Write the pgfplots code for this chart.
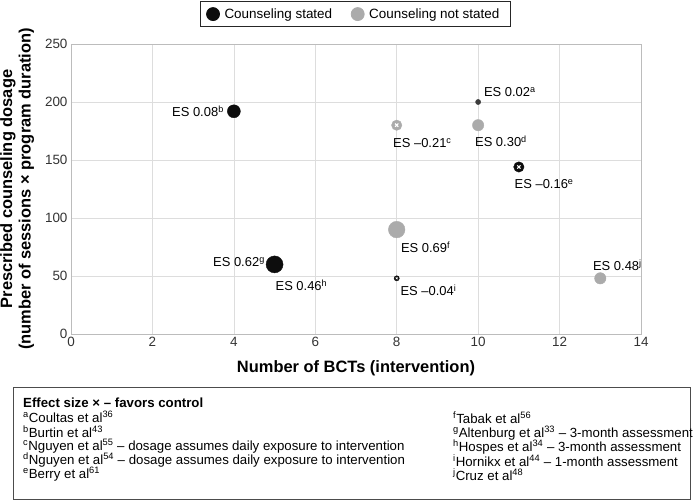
\documentclass[border=0pt]{standalone}
\usepackage{fontspec}
\setmainfont{Liberation Sans}
\usepackage{pgfplots}
\pgfplotsset{compat=1.18}
\definecolor{cblack}{HTML}{0D0D0D}
\definecolor{cgray}{HTML}{ABABAB}
\definecolor{cdark}{HTML}{3C3C3C}
\definecolor{gridc}{HTML}{DDDDDD}
\newcommand{\lab}[1]{\fontsize{13}{15}\selectfont #1}
\begin{document}
\begin{tikzpicture}
\useasboundingbox (-71bp,-169bp) rectangle (623bp,334bp);
\begin{axis}[
  at={(0,0)}, anchor=origin,
  scale only axis, width=570bp, height=290bp,
  xmin=0, xmax=14, ymin=0, ymax=250,
  xtick={0,2,...,14}, ytick={0,50,...,250},
  grid=major, major grid style={gridc, line width=0.7bp},
  axis line style={gridc!85!black, line width=0.7bp},
  tick style={draw=none},
  clip=false,
  ticklabel style={font=\fontsize{13.5}{15}\selectfont, text=black!80},
  /pgf/number format/assume math mode=true,
  xlabel={Number of BCTs (intervention)},
  xlabel style={at={(0.5,-0.1172)}, anchor=center, font=\bfseries\fontsize{16.5}{18}\selectfont},
  ylabel={Prescribed counseling dosage\\(number of sessions × program duration)},
  ylabel style={at={(-0.0945,0.5)}, anchor=center, align=center, font=\bfseries\fontsize{16.5}{18.5}\selectfont},
  legend columns=2,
  legend style={at={(0.499,1.148)}, anchor=north, draw=black!85, line width=0.8bp,
    font=\fontsize{13.5}{15}\selectfont, inner xsep=6bp, inner ysep=5bp,
    /tikz/every even column/.append style={column sep=14bp},
    nodes={inner xsep=5bp}},
]
\addlegendimage{only marks, mark=*, mark size=6.5bp, cblack}
\addlegendentry{Counseling stated}
\addlegendimage{only marks, mark=*, mark size=6.5bp, cgray}
\addlegendentry{Counseling not stated}
% Counseling stated
\addplot[only marks, mark=*, mark size=6.5bp, cblack, forget plot] coordinates {(4,192)};
\addplot[only marks, mark=*, mark size=8.5bp, cblack, forget plot] coordinates {(5,60)};
\addplot[only marks, mark=*, mark size=5.2bp, cblack, forget plot] coordinates {(11,144)};
\addplot[only marks, mark=*, mark size=2.6bp, cblack, forget plot] coordinates {(8,48)};
\addplot[only marks, mark=*, mark size=2.6bp, cdark, forget plot] coordinates {(10,200)};
% Counseling not stated
\addplot[only marks, mark=*, mark size=5.2bp, cgray, forget plot] coordinates {(8,180)};
\addplot[only marks, mark=*, mark size=5.7bp, cgray, forget plot] coordinates {(10,180)};
\addplot[only marks, mark=*, mark size=8.3bp, cgray, forget plot] coordinates {(8,90)};
\addplot[only marks, mark=*, mark size=5.7bp, cgray, forget plot] coordinates {(13,48)};
% white x symbols (effect favours control)
\addplot[only marks, mark=x, mark size=2.3bp, white, line width=1.1bp, forget plot] coordinates {(8,180) (11,144)};
\addplot[only marks, mark=x, mark size=1.3bp, white, line width=0.6bp, forget plot] coordinates {(8,48)};
% labels
\node[anchor=east, inner sep=0pt] at (axis cs:3.758,192.2) {\lab{ES 0.08\textsuperscript{b}}};
\node[anchor=west, inner sep=0pt] at (axis cs:10.14,208.6) {\lab{ES 0.02\textsuperscript{a}}};
\node[inner sep=0pt] at (axis cs:8.63,164.7) {\lab{ES –0.21\textsuperscript{c}}};
\node[inner sep=0pt] at (axis cs:10.56,166.4) {\lab{ES 0.30\textsuperscript{d}}};
\node[inner sep=0pt] at (axis cs:11.62,129.3) {\lab{ES –0.16\textsuperscript{e}}};
\node[inner sep=0pt] at (axis cs:8.71,75) {\lab{ES 0.69\textsuperscript{f}}};
\node[anchor=east, inner sep=0pt] at (axis cs:4.765,62) {\lab{ES 0.62\textsuperscript{g}}};
\node[inner sep=0pt] at (axis cs:5.66,42.2) {\lab{ES 0.46\textsuperscript{h}}};
\node[inner sep=0pt] at (axis cs:8.78,37.9) {\lab{ES –0.04\textsuperscript{i}}};
\node[inner sep=0pt] at (axis cs:13.42,59.5) {\lab{ES 0.48\textsuperscript{j}}};
\end{axis}
% footnote box
\draw[black!70, line width=0.8bp] (-58bp,-53bp) rectangle (619bp,-165bp);
\begin{scope}[every node/.style={anchor=west, inner sep=0pt, font=\fontsize{13.3}{15}\selectfont}]
\node at (-48bp,-69bp) {\textbf{Effect size × – favors control}};
\node at (-48bp,-83bp) {\textsuperscript{a}Coultas et al\textsuperscript{36}};
\node at (-48bp,-98bp) {\textsuperscript{b}Burtin et al\textsuperscript{43}};
\node at (-48bp,-112bp) {\textsuperscript{c}Nguyen et al\textsuperscript{55} – dosage assumes daily exposure to intervention};
\node at (-48bp,-126bp) {\textsuperscript{d}Nguyen et al\textsuperscript{54} – dosage assumes daily exposure to intervention};
\node at (-48bp,-140bp) {\textsuperscript{e}Berry et al\textsuperscript{61}};
\node at (382bp,-84bp) {\textsuperscript{f}Tabak et al\textsuperscript{56}};
\node at (382bp,-99bp) {\textsuperscript{g}Altenburg et al\textsuperscript{33} – 3-month assessment};
\node at (382bp,-113bp) {\textsuperscript{h}Hospes et al\textsuperscript{34} – 3-month assessment};
\node at (382bp,-127bp) {\textsuperscript{i}Hornikx et al\textsuperscript{44} – 1-month assessment};
\node at (382bp,-141bp) {\textsuperscript{j}Cruz et al\textsuperscript{48}};
\end{scope}
\end{tikzpicture}
\end{document}
